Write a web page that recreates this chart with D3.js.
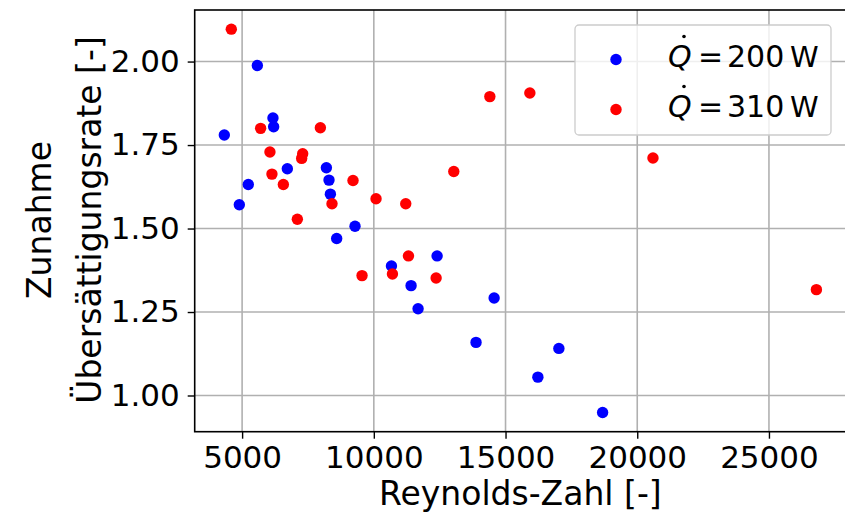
<!DOCTYPE html>
<html>
<head>
<meta charset="utf-8">
<script src="https://cdn.jsdelivr.net/npm/d3@7"></script>
<style>
	body { margin: 0; background: #fff; }
	text { font-family: "DejaVu Sans", sans-serif; fill: #000; }
</style>
</head>
<body>
<div class="chart"></div>
<script>
var w = 845, h = 515;
var left = 194.7, top_ = 10, right = 846, bottom = 431.7;

// Q = 200 W
var re200 = [5578, 6171, 6197, 4324, 6717, 8199, 8299, 5235, 8351, 4894, 9286,
	8590, 12402, 10669, 11414, 11680, 13880, 14567, 17025, 16228, 18685];
var rate200 = [1.988, 1.831, 1.805, 1.780, 1.679, 1.682, 1.645, 1.632, 1.603, 1.571, 1.507,
	1.470, 1.418, 1.388, 1.329, 1.260, 1.159, 1.292, 1.141, 1.055, 0.949];

// Q = 310 W
var re310 = [4590, 5703, 7971, 6056, 7299, 7261, 13036, 6132, 9210, 6565, 10084,
	8412, 11212, 7097, 11315, 9552, 10707, 12365, 26801, 14404, 15923, 20597];
var rate310 = [2.097, 1.800, 1.802, 1.729, 1.724, 1.710, 1.671, 1.663, 1.644, 1.632, 1.589,
	1.574, 1.574, 1.528, 1.418, 1.359, 1.364, 1.352, 1.317, 1.895, 1.906, 1.711];

var xTicks = [5000, 10000, 15000, 20000, 25000];
var yTicks = [1.00, 1.25, 1.50, 1.75, 2.00];

var series = [
	{ label: '200', color: '#0000ff', x: re200, y: rate200 },
	{ label: '310', color: '#ff0000', x: re310, y: rate310 }
];

// matplotlib-like 5% margins
function padded(vals) {
	var ext = d3.extent(vals), m = (ext[1] - ext[0]) * 0.05;
	return [ext[0] - m, ext[1] + m];
}
var xScale = d3.scaleLinear().domain(padded(re200.concat(re310))).range([left, right]);
var yScale = d3.scaleLinear().domain(padded(rate200.concat(rate310))).range([bottom, top_]);

var svg = d3.select('.chart').append('svg')
	.attr('width', w)
	.attr('height', h);

var fs = 31,  // tick labels
	lfs = 33; // axis labels

// grid
svg.append('g').selectAll('line').data(xTicks).enter().append('line')
	.attr('x1', function(d) { return xScale(d); })
	.attr('x2', function(d) { return xScale(d); })
	.attr('y1', top_).attr('y2', bottom)
	.attr('stroke', '#b0b0b0').attr('stroke-width', 1.6);
svg.append('g').selectAll('line').data(yTicks).enter().append('line')
	.attr('y1', function(d) { return yScale(d); })
	.attr('y2', function(d) { return yScale(d); })
	.attr('x1', left).attr('x2', right)
	.attr('stroke', '#b0b0b0').attr('stroke-width', 1.6);

// axes
var xAxis = svg.append('g')
	.attr('transform', 'translate(0,' + bottom + ')')
	.call(d3.axisBottom(xScale).tickValues(xTicks).tickSize(7).tickPadding(7).tickFormat(d3.format('d')));
var yAxis = svg.append('g')
	.attr('transform', 'translate(' + left + ',0)')
	.call(d3.axisLeft(yScale).tickValues(yTicks).tickSize(7).tickPadding(8).tickFormat(d3.format('.2f')));
[xAxis, yAxis].forEach(function(a) {
	a.select('.domain').remove();
	a.selectAll('.tick line').attr('stroke', '#000').attr('stroke-width', 1.4);
	a.selectAll('.tick text').attr('font-size', fs).attr('font-family', 'DejaVu Sans').attr('fill', '#000');
});

// spines
svg.append('rect')
	.attr('x', left).attr('y', top_)
	.attr('width', right - left).attr('height', bottom - top_)
	.attr('fill', 'none').attr('stroke', '#000').attr('stroke-width', 1.6);

// points
series.forEach(function(s) {
	svg.append('g').selectAll('circle').data(s.x).enter().append('circle')
		.attr('cx', function(d) { return xScale(d); })
		.attr('cy', function(d, i) { return yScale(s.y[i]); })
		.attr('r', 5.7)
		.attr('fill', s.color);
});

// axis labels
svg.append('text')
	.attr('x', (left + right) / 2).attr('y', 505)
	.attr('text-anchor', 'middle').attr('font-size', lfs)
	.text('Reynolds-Zahl [-]');
var yl = svg.append('text')
	.attr('transform', 'translate(0,220) rotate(-90)')
	.attr('text-anchor', 'middle').attr('font-size', lfs);
yl.append('tspan').attr('x', 0).attr('y', 51).text('Zunahme');
yl.append('tspan').attr('x', 0).attr('y', 101).text('Übersättigungsrate [-]');

// legend
var lg = svg.append('g');
lg.append('rect')
	.attr('x', 575).attr('y', 25).attr('width', 256).attr('height', 110)
	.attr('rx', 4)
	.attr('fill', '#fff').attr('fill-opacity', 0.8)
	.attr('stroke', '#cccccc').attr('stroke-width', 1.3);
series.forEach(function(s, i) {
	var by = 66.5 + i * 50;
	lg.append('circle').attr('cx', 616).attr('cy', by - 7).attr('r', 5.7).attr('fill', s.color);
	lg.append('text').attr('x', 668).attr('y', by).attr('font-size', 30)
		.attr('font-style', 'italic').text('Q');
	// dot accent over Q
	lg.append('circle').attr('cx', 684).attr('cy', by - 30).attr('r', 1.8).attr('fill', '#000');
	lg.append('text').attr('x', 698).attr('y', by).attr('font-size', 30).text('=');
	lg.append('text').attr('x', 727).attr('y', by).attr('font-size', 30).text(s.label);
	lg.append('text').attr('x', 790).attr('y', by).attr('font-size', 29).text('W');
});
</script>
</body>
</html>
